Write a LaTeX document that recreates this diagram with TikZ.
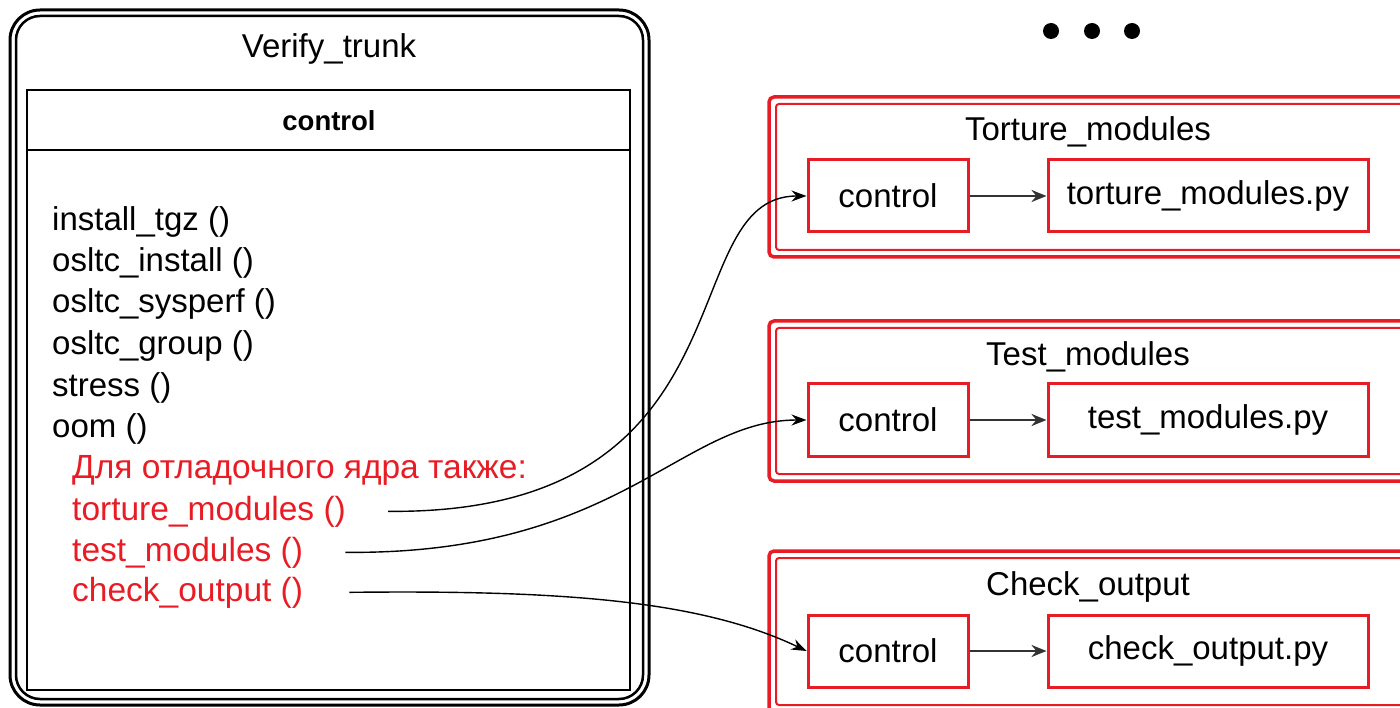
\documentclass[tikz,border=0pt]{standalone}
\usepackage{fontspec}
\setmainfont{Liberation Sans}
\usetikzlibrary{arrows.meta}
\definecolor{myred}{RGB}{232,28,36}
\begin{document}
\begin{tikzpicture}[x=1pt,y=-1pt,
  txt/.style={font=\fontsize{33}{40}\selectfont, inner sep=0pt},
  fn/.style={txt, anchor=base west},
  redfn/.style={fn, text=myred, font=\fontsize{33.5}{40}\selectfont},
  title/.style={txt, anchor=base},
  inbox/.style={draw=myred, line width=3pt, minimum width=160pt, minimum height=72pt, inner sep=0pt, txt},
  pybox/.style={inbox, minimum width=320pt},
  conn/.style={draw=black, line width=1.4pt, -{Stealth[length=15pt,width=11pt]}},
  flow/.style={draw=black!80, line width=2.4pt, -{Stealth[length=15pt,width=12pt]}},
  grpout/.style={draw=myred, line width=3.5pt, rounded corners=5pt},
  grpin/.style={draw=myred, line width=2pt, rounded corners=3pt},
  dot/.style={fill=black, circle, inner sep=0pt, minimum size=16pt}
]
\useasboundingbox (0,0) rectangle (1400,708);
\clip (0,0) rectangle (1400,708);

% ---- left outer container ----
\draw[line width=3pt, rounded corners=30pt] (10,10) rectangle (649,705);
\draw[line width=2.5pt, rounded corners=24pt] (16,16) rectangle (643,699);
\node[title] (vt) at (329,58) {Verify\_trunk};

% class box
\draw[line width=2.5pt] (27,90) rectangle (630,690);
\draw[line width=2.5pt] (27,150) -- (630,150);
\node[txt, font=\fontsize{27.5}{30}\selectfont\bfseries, anchor=base] (ctl) at (329,131) {control};

\node[fn] (m1) at (52,231) {install\_tgz ()};
\node[fn] (m2) at (52,272) {osltc\_install ()};
\node[fn] (m3) at (52,313) {osltc\_sysperf ()};
\node[fn] (m4) at (52,355) {osltc\_group ()};
\node[fn] (m5) at (52,396) {stress ()};
\node[fn] (m6) at (52,437) {oom ()};
\node[redfn] (m7) at (72,478) {Для отладочного ядра также:};
\node[redfn] (m8) at (72,520) {torture\_modules ()};
\node[redfn] (m9) at (72,561) {test\_modules ()};
\node[redfn] (m10) at (72,601) {check\_output ()};

% ---- dots ----
\node[dot] (d1) at (1051,31) {};
\node[dot] (d2) at (1092,31) {};
\node[dot] (d3) at (1132,31) {};

% ---- groups ----
\draw[grpout] (769,97) rectangle (1420,257);
\draw[grpin] (776,104) rectangle (1420,250);
\node[title] (g1) at (1088,141) {Torture\_modules};
\node[inbox] (c1) at (888,196) {control};
\node[pybox] (p1) at (1208,196) {torture\_modules.py};
\draw[flow] (c1) -- (p1);

\draw[grpout] (769,321) rectangle (1420,481);
\draw[grpin] (776,328) rectangle (1420,474);
\node[title] (g2) at (1088,366) {Test\_modules};
\node[inbox] (c2) at (888,420) {control};
\node[pybox] (p2) at (1208,420) {test\_modules.py};
\draw[flow] (c2) -- (p2);

\draw[grpout] (769,551) rectangle (1420,715);
\draw[grpin] (776,558) rectangle (1420,705);
\node[title] (g3) at (1088,595) {Check\_output};
\node[inbox] (c3) at (888,651) {control};
\node[pybox] (p3) at (1208,651) {check\_output.py};
\draw[flow] (c3) -- (p3);

% ---- connectors ----
\draw[conn] ([xshift=42pt]m8.east) .. controls (760,515) and (670,196) .. (c1.west);
\draw[conn] ([xshift=42pt]m9.east) .. controls (620,555) and (680,420) .. (c2.west);
\draw[conn] ([xshift=46pt]m10.east) .. controls (560,590) and (700,600) .. (c3.west);
\end{tikzpicture}
\end{document}
